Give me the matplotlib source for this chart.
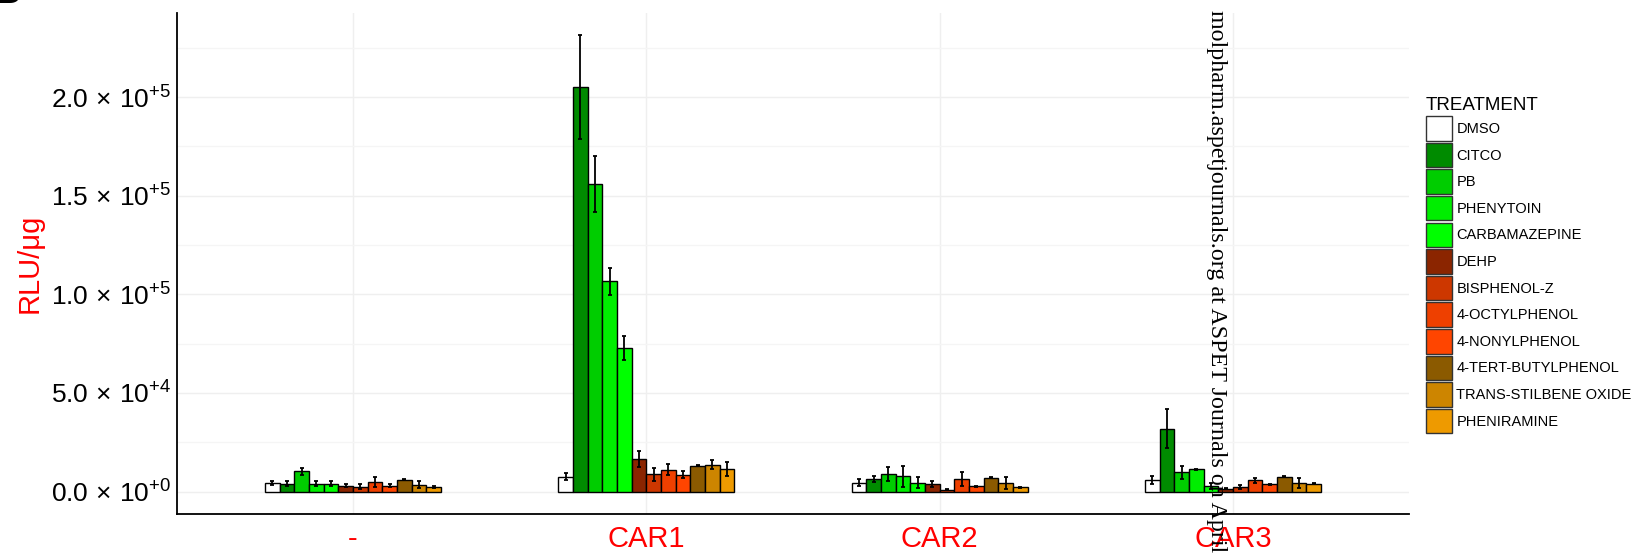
import matplotlib
matplotlib.use("Agg")
from matplotlib import pyplot as plt
from matplotlib.patches import Patch
import numpy as np

plt.rcParams['font.family'] = ['Liberation Sans', 'DejaVu Sans']
plt.rcParams['mathtext.fontset'] = 'custom'
plt.rcParams['mathtext.rm'] = 'Liberation Sans'
plt.rcParams['mathtext.it'] = 'Liberation Sans:italic'

# data
groups = ["-", "CAR1", "CAR2", "CAR3"]
treatments = ["DMSO", "CITCO", "PB", "PHENYTOIN", "CARBAMAZEPINE", "DEHP",
              "BISPHENOL-Z", "4-OCTYLPHENOL", "4-NONYLPHENOL",
              "4-TERT-BUTYLPHENOL", "TRANS-STILBENE OXIDE", "PHENIRAMINE"]
colors = ["#FFFFFF", "#008B00", "#00CD00", "#00EE00", "#00FF00", "#8B2500",
          "#CD3700", "#EE4000", "#FF4500", "#8B5A00", "#CD8500", "#EE9A00"]

# mean RLU/ug, one row per group
mean_empty = [4400, 4050, 10300, 4050, 4050, 3040, 2540, 4900, 3040, 6080, 3550, 2400]
mean_car1 = [7450, 205200, 156000, 106600, 72850, 16400, 8780, 11150, 8620, 13180, 13700, 11500]
mean_car2 = [4560, 6240, 8970, 7760, 4560, 3900, 1000, 6400, 2700, 6950, 4300, 2100]
mean_car3 = [5730, 31900, 9790, 11300, 2900, 1400, 2300, 5730, 3700, 7500, 4500, 3900]

# error (sd)
err_empty = [1000, 1100, 1700, 1100, 1100, 700, 1300, 2500, 850, 300, 1800, 400]
err_car1 = [1800, 26500, 14300, 6700, 5900, 4100, 3400, 3000, 1900, 300, 2500, 3500]
err_car2 = [1800, 1500, 3500, 5400, 3000, 1500, 200, 3700, 300, 300, 3000, 300]
err_car3 = [1900, 9800, 3200, 300, 1500, 300, 1000, 1200, 300, 300, 2500, 300]

yticks = [0, 50000, 100000, 150000, 200000]
ytick_labels = [r"$0.0\,\times\,10^{+0}$", r"$5.0\,\times\,10^{+4}$", r"$1.0\,\times\,10^{+5}$",
                r"$1.5\,\times\,10^{+5}$", r"$2.0\,\times\,10^{+5}$"]

means = np.array([mean_empty, mean_car1, mean_car2, mean_car3])
errs = np.array([err_empty, err_car1, err_car2, err_car3])

fig = plt.figure(figsize=(16.46, 5.57), dpi=100)
ax = fig.add_axes([177/1646, 1 - 514/557, (1409 - 177)/1646, (514 - 13)/557])

bw = 0.05
gx = np.arange(len(groups))
for j, t in enumerate(treatments):
    x = gx + (j - 5.5) * bw
    ax.bar(x, means[:, j], width=bw, color=colors[j], edgecolor="black",
           linewidth=1.0, zorder=3)
    ax.errorbar(x, means[:, j], yerr=errs[:, j], fmt="none", ecolor="black",
                elinewidth=1.3, capsize=1.5, capthick=1.3, zorder=4)

ax.set_xlim(-0.6, 3.6)
ax.set_ylim(-11400, 242700)
ax.set_xticks(gx)
ax.set_xticklabels(groups, color="red", fontsize=21)
ax.set_yticks(yticks)
ax.set_yticklabels(ytick_labels, fontsize=19)
ax.set_yticks(np.arange(25000, 250000, 50000), minor=True)
ax.tick_params(axis="y", which="minor", length=0)
ax.tick_params(axis="y", which="major", length=0, pad=4)
ax.tick_params(axis="x", which="major", length=0, pad=8)
ax.set_ylabel("RLU/\u03bcg", color="red", fontsize=21)
ax.yaxis.set_label_coords((44 - 177)/1232, 0.5)

ax.grid(True, which="major", color="#EFEFEF", linewidth=1.0, zorder=0)
ax.grid(True, which="minor", axis="y", color="#F5F5F5", linewidth=1.0, zorder=0)
ax.set_axisbelow(True)
for s in ["top", "right"]:
    ax.spines[s].set_visible(False)
for s in ["left", "bottom"]:
    ax.spines[s].set_linewidth(1.3)

handles = [Patch(facecolor=c, edgecolor="#333333", linewidth=1.0) for c in colors]
leg = ax.legend(handles, treatments, title="TREATMENT", loc="upper left",
                bbox_to_anchor=(1426/1646, 1 - 97/557), bbox_transform=fig.transFigure,
                frameon=False, fontsize=10.5, title_fontsize=13.5, borderpad=0,
                borderaxespad=0, handlelength=1.78, handleheight=2.2,
                labelspacing=0.15, handletextpad=0.3, alignment="left")

# watermark from the source pdf
fig.text(1217/1646, 1 - 10/557, "molpharm.aspetjournals.org at ASPET Journals on April 18, 2024",
         rotation=270, ha="center", va="top", fontsize=17.3,
         family=["Liberation Serif", "DejaVu Serif"], zorder=10)

# edge of the panel letter, cut off in the source
fig.text(-5/1646, 1 - 3/557, "B", fontsize=26, weight="bold", ha="left", va="baseline")

fig.savefig("out.png", dpi=100)
